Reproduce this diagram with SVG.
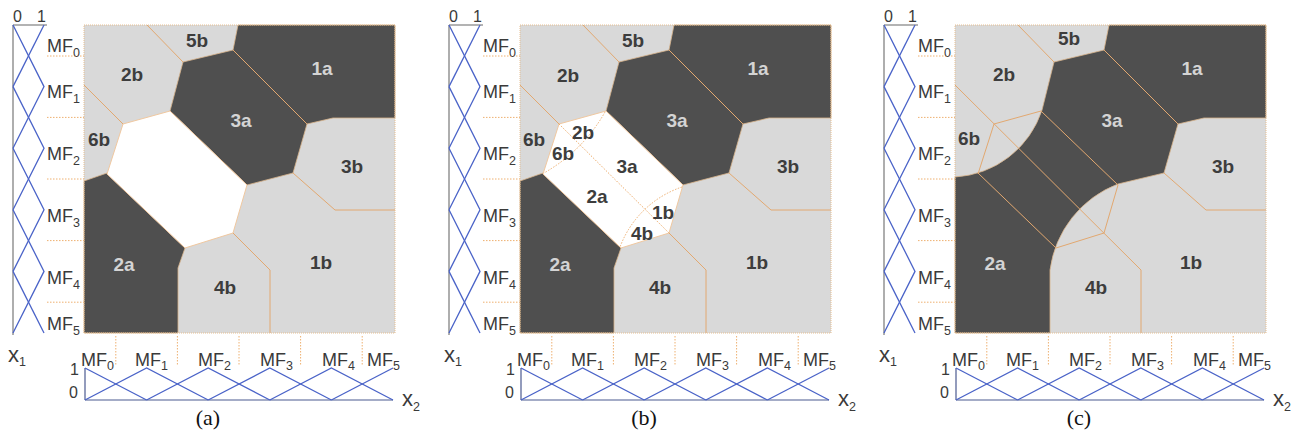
<svg xmlns="http://www.w3.org/2000/svg" width="1296" height="433" viewBox="0 0 1296 433">
<style>
.lt{fill:#d9d9d9}
.dk{fill:#4f4f4f;stroke:#d8b48c;stroke-width:0.8}
.wh{fill:#ffffff;stroke:#f0c8a0;stroke-width:1}
.ob{fill:none;stroke:#e2a870;stroke-width:1}
.od{fill:none;stroke:#eeae6e;stroke-width:1;stroke-dasharray:1.5 1.5}
.fr{fill:none;stroke:#e6be90;stroke-width:1;stroke-dasharray:1 1}
.mf{fill:none;stroke:#4a63c8;stroke-width:1.3}
.ax{stroke:#9a9a9a;stroke-width:1.6}
.ax2{stroke:#4b5a90;stroke-width:1.2}
.gl{fill:none;stroke:#eeb070;stroke-width:1;stroke-dasharray:1.5 1.5}
text{font-family:"Liberation Sans",Arial,sans-serif}
.mfl{font-size:18px;fill:#3a3a3a}
.sub{font-size:12.5px}
.tk{font-size:16px;fill:#3a3a3a}
.xl{font-size:22px;fill:#3a3a3a}
.rl{font-size:19px;font-weight:bold;fill:#3d3d3d;text-anchor:middle}
.rd{font-size:19px;font-weight:bold;fill:#d4d4d4;text-anchor:middle}
.cap{font-family:"Liberation Serif","Times New Roman",serif;font-size:22px;fill:#111;text-anchor:middle}
</style>

<!-- ================= PANEL (a) ================= -->
<g id="panel-a">
  <g id="a-regions">
    <rect class="lt" x="84" y="25" width="311" height="308"/>
    <polygon id="a-1a" class="dk" points="238,25 395,25 395,118 333,118 307,124 233,50"/>
    <polygon id="a-3a" class="dk" points="183,62 233,50 307,124 293,173 247,185 170,111"/>
    <polygon id="a-2a" class="dk" points="84,181 107,173 185,248 178,268 178,333 84,333"/>
    <polygon id="a-white" class="wh" points="123,124 170,111 247,185 233,233 185,248 107,174"/>
  </g>
  <g id="a-connectors">
    <polyline class="ob" points="147,25 183,62"/>
    <polyline class="ob" points="84,85 123,124"/>
    <polyline class="ob" points="233,50 307,124"/>
    <polyline class="ob" points="293,173 335,210 395,210"/>
    <polyline class="ob" points="233,233 270,270 270,333"/>
    <rect class="fr" x="84" y="25" width="311" height="308"/>
  </g>
  <g id="a-labels">
    <text class="rl" x="197" y="47">5b</text>
    <text class="rl" x="132" y="81">2b</text>
    <text class="rd" x="322" y="75">1a</text>
    <text class="rl" x="99" y="146">6b</text>
    <text class="rd" x="241" y="127">3a</text>
    <text class="rl" x="352" y="173">3b</text>
    <text class="rd" x="124" y="271">2a</text>
    <text class="rl" x="225" y="294">4b</text>
    <text class="rl" x="321" y="269">1b</text>
  </g>
  <g id="a-x1-axis">
    <line class="ax" x1="13" y1="25" x2="13" y2="335"/>
    <line class="ax" x1="13" y1="25" x2="47" y2="25"/>
    <text class="tk" x="13" y="22">0</text>
    <text class="tk" x="37" y="22">1</text>
    <polyline class="mf" points="44,25 13,86.6"/>
    <polyline class="mf" points="13,25 44,86.6 13,148.2"/>
    <polyline class="mf" points="13,86.6 44,148.2 13,209.8"/>
    <polyline class="mf" points="13,148.2 44,209.8 13,271.4"/>
    <polyline class="mf" points="13,209.8 44,271.4 13,333"/>
    <polyline class="mf" points="13,271.4 44,333"/>
    <path class="gl" d="M47 56H84M47 117.4H84M47 179H84M47 240.6H84M47 302.2H84"/>
    <text class="mfl" x="47" y="52">MF<tspan class="sub" dy="5">0</tspan></text>
    <text class="mfl" x="47" y="98">MF<tspan class="sub" dy="5">1</tspan></text>
    <text class="mfl" x="47" y="160">MF<tspan class="sub" dy="5">2</tspan></text>
    <text class="mfl" x="47" y="222">MF<tspan class="sub" dy="5">3</tspan></text>
    <text class="mfl" x="47" y="284">MF<tspan class="sub" dy="5">4</tspan></text>
    <text class="mfl" x="47" y="330">MF<tspan class="sub" dy="5">5</tspan></text>
    <text class="xl" x="8" y="362">x<tspan class="sub" dy="4">1</tspan></text>
  </g>
  <g id="a-x2-axis">
    <path class="gl" d="M115.8 336V366M177.4 336V366M239 336V366M300.6 336V366M362.2 336V366"/>
    <line class="ax2" x1="85" y1="368" x2="85" y2="400"/>
    <line class="ax2" x1="85" y1="400" x2="393" y2="400"/>
    <polyline class="mf" points="85,368 146.6,400"/>
    <polyline class="mf" points="85,400 146.6,368 208.2,400"/>
    <polyline class="mf" points="146.6,400 208.2,368 269.8,400"/>
    <polyline class="mf" points="208.2,400 269.8,368 331.4,400"/>
    <polyline class="mf" points="269.8,400 331.4,368 393,400"/>
    <polyline class="mf" points="331.4,400 393,368"/>
    <text class="tk" x="79" y="375" text-anchor="end">1</text>
    <text class="tk" x="78" y="398" text-anchor="end">0</text>
    <text class="mfl" x="81" y="366">MF<tspan class="sub" dy="4">0</tspan></text>
    <text class="mfl" x="135" y="366">MF<tspan class="sub" dy="4">1</tspan></text>
    <text class="mfl" x="198" y="366">MF<tspan class="sub" dy="4">2</tspan></text>
    <text class="mfl" x="260" y="366">MF<tspan class="sub" dy="4">3</tspan></text>
    <text class="mfl" x="322" y="366">MF<tspan class="sub" dy="4">4</tspan></text>
    <text class="mfl" x="367" y="366">MF<tspan class="sub" dy="4">5</tspan></text>
    <text class="xl" x="402" y="406">x<tspan class="sub" dy="5">2</tspan></text>
  </g>
  <text class="cap" x="208" y="425">(a)</text>
</g>

<!-- ================= PANEL (b) ================= -->
<g id="panel-b" transform="translate(436,0)">
  <g id="b-regions">
    <rect class="lt" x="84" y="25" width="311" height="308"/>
    <polygon id="b-1a" class="dk" points="238,25 395,25 395,118 333,118 307,124 233,50"/>
    <polygon id="b-3a" class="dk" points="183,62 233,50 307,124 293,173 247,185 170,111"/>
    <polygon id="b-2a" class="dk" points="84,181 107,173 185,248 178,268 178,333 84,333"/>
    <polygon id="b-white" class="wh" points="123,124 170,111 247,185 233,233 185,248 107,174"/>
  </g>
  <g id="b-connectors">
    <polyline class="ob" points="147,25 183,62"/>
    <polyline class="ob" points="84,85 123,124"/>
    <polyline class="ob" points="233,50 307,124"/>
    <polyline class="ob" points="293,173 335,210 395,210"/>
    <polyline class="ob" points="233,233 270,270 270,333"/>
    <polyline class="od" points="123,124 233,233"/>
    <path class="od" d="M169 112 A161 161 0 0 1 108 173"/>
    <path class="od" d="M246 187 A100 100 0 0 0 184 247"/>
    <rect class="fr" x="84" y="25" width="311" height="308"/>
  </g>
  <g id="b-labels">
    <text class="rl" x="197" y="47">5b</text>
    <text class="rl" x="132" y="82">2b</text>
    <text class="rd" x="322" y="75">1a</text>
    <text class="rl" x="98" y="146">6b</text>
    <text class="rd" x="241" y="127">3a</text>
    <text class="rl" x="352" y="173">3b</text>
    <text class="rd" x="124" y="271">2a</text>
    <text class="rl" x="224" y="294">4b</text>
    <text class="rl" x="321" y="269">1b</text>
    <text class="rl" x="147" y="139">2b</text>
    <text class="rl" x="127" y="160">6b</text>
    <text class="rl" x="191" y="173">3a</text>
    <text class="rl" x="161" y="203">2a</text>
    <text class="rl" x="227" y="219">1b</text>
    <text class="rl" x="206" y="240">4b</text>
  </g>
  <g id="b-x1-axis">
    <line class="ax" x1="13" y1="25" x2="13" y2="335"/>
    <line class="ax" x1="13" y1="25" x2="47" y2="25"/>
    <text class="tk" x="13" y="22">0</text>
    <text class="tk" x="37" y="22">1</text>
    <polyline class="mf" points="44,25 13,86.6"/>
    <polyline class="mf" points="13,25 44,86.6 13,148.2"/>
    <polyline class="mf" points="13,86.6 44,148.2 13,209.8"/>
    <polyline class="mf" points="13,148.2 44,209.8 13,271.4"/>
    <polyline class="mf" points="13,209.8 44,271.4 13,333"/>
    <polyline class="mf" points="13,271.4 44,333"/>
    <path class="gl" d="M47 56H84M47 117.4H84M47 179H84M47 240.6H84M47 302.2H84"/>
    <text class="mfl" x="47" y="52">MF<tspan class="sub" dy="5">0</tspan></text>
    <text class="mfl" x="47" y="98">MF<tspan class="sub" dy="5">1</tspan></text>
    <text class="mfl" x="47" y="160">MF<tspan class="sub" dy="5">2</tspan></text>
    <text class="mfl" x="47" y="222">MF<tspan class="sub" dy="5">3</tspan></text>
    <text class="mfl" x="47" y="284">MF<tspan class="sub" dy="5">4</tspan></text>
    <text class="mfl" x="47" y="330">MF<tspan class="sub" dy="5">5</tspan></text>
    <text class="xl" x="8" y="362">x<tspan class="sub" dy="4">1</tspan></text>
  </g>
  <g id="b-x2-axis">
    <path class="gl" d="M115.8 336V366M177.4 336V366M239 336V366M300.6 336V366M362.2 336V366"/>
    <line class="ax2" x1="85" y1="368" x2="85" y2="400"/>
    <line class="ax2" x1="85" y1="400" x2="393" y2="400"/>
    <polyline class="mf" points="85,368 146.6,400"/>
    <polyline class="mf" points="85,400 146.6,368 208.2,400"/>
    <polyline class="mf" points="146.6,400 208.2,368 269.8,400"/>
    <polyline class="mf" points="208.2,400 269.8,368 331.4,400"/>
    <polyline class="mf" points="269.8,400 331.4,368 393,400"/>
    <polyline class="mf" points="331.4,400 393,368"/>
    <text class="tk" x="79" y="375" text-anchor="end">1</text>
    <text class="tk" x="78" y="398" text-anchor="end">0</text>
    <text class="mfl" x="81" y="366">MF<tspan class="sub" dy="4">0</tspan></text>
    <text class="mfl" x="135" y="366">MF<tspan class="sub" dy="4">1</tspan></text>
    <text class="mfl" x="198" y="366">MF<tspan class="sub" dy="4">2</tspan></text>
    <text class="mfl" x="260" y="366">MF<tspan class="sub" dy="4">3</tspan></text>
    <text class="mfl" x="322" y="366">MF<tspan class="sub" dy="4">4</tspan></text>
    <text class="mfl" x="367" y="366">MF<tspan class="sub" dy="4">5</tspan></text>
    <text class="xl" x="402" y="406">x<tspan class="sub" dy="5">2</tspan></text>
  </g>
  <text class="cap" x="208" y="425">(b)</text>
</g>

<!-- ================= PANEL (c) ================= -->
<g id="panel-c" transform="translate(871,0)">
  <g id="c-regions">
    <rect class="lt" x="84" y="25" width="311" height="308"/>
    <polygon id="c-1a" class="dk" points="238,25 395,25 395,118 333,118 307,124 233,50"/>
    <path id="c-band" class="dk" d="M183 62 L233 50 L307 124 L293 173 L247 184 A107 107 0 0 0 179 270 L179 333 L84 333 L84 177 A97 97 0 0 0 171 110 Z"/>
  </g>
  <g id="c-connectors">
    <polyline class="ob" points="147,25 183,62"/>
    <polyline class="ob" points="84,85 270,270 270,333"/>
    <polyline class="ob" points="233,50 307,124"/>
    <polyline class="ob" points="170,111 247,185"/>
    <polyline class="ob" points="107,173 185,248"/>
    <polyline class="ob" points="170,111 123,124 107,174"/>
    <polyline class="ob" points="247,185 233,233 185,248"/>
    <polyline class="ob" points="293,173 335,210 395,210"/>
    <rect class="fr" x="84" y="25" width="311" height="308"/>
  </g>
  <g id="c-labels">
    <text class="rl" x="198" y="45">5b</text>
    <text class="rl" x="133" y="81">2b</text>
    <text class="rd" x="321" y="75">1a</text>
    <text class="rl" x="98" y="145">6b</text>
    <text class="rd" x="241" y="127">3a</text>
    <text class="rl" x="352" y="173">3b</text>
    <text class="rd" x="124" y="270">2a</text>
    <text class="rl" x="225" y="294">4b</text>
    <text class="rl" x="320" y="269">1b</text>
  </g>
  <g id="c-x1-axis">
    <line class="ax" x1="13" y1="25" x2="13" y2="335"/>
    <line class="ax" x1="13" y1="25" x2="47" y2="25"/>
    <text class="tk" x="13" y="22">0</text>
    <text class="tk" x="37" y="22">1</text>
    <polyline class="mf" points="44,25 13,86.6"/>
    <polyline class="mf" points="13,25 44,86.6 13,148.2"/>
    <polyline class="mf" points="13,86.6 44,148.2 13,209.8"/>
    <polyline class="mf" points="13,148.2 44,209.8 13,271.4"/>
    <polyline class="mf" points="13,209.8 44,271.4 13,333"/>
    <polyline class="mf" points="13,271.4 44,333"/>
    <path class="gl" d="M47 56H84M47 117.4H84M47 179H84M47 240.6H84M47 302.2H84"/>
    <text class="mfl" x="47" y="52">MF<tspan class="sub" dy="5">0</tspan></text>
    <text class="mfl" x="47" y="98">MF<tspan class="sub" dy="5">1</tspan></text>
    <text class="mfl" x="47" y="160">MF<tspan class="sub" dy="5">2</tspan></text>
    <text class="mfl" x="47" y="222">MF<tspan class="sub" dy="5">3</tspan></text>
    <text class="mfl" x="47" y="284">MF<tspan class="sub" dy="5">4</tspan></text>
    <text class="mfl" x="47" y="330">MF<tspan class="sub" dy="5">5</tspan></text>
    <text class="xl" x="8" y="362">x<tspan class="sub" dy="4">1</tspan></text>
  </g>
  <g id="c-x2-axis">
    <path class="gl" d="M115.8 336V366M177.4 336V366M239 336V366M300.6 336V366M362.2 336V366"/>
    <line class="ax2" x1="85" y1="368" x2="85" y2="400"/>
    <line class="ax2" x1="85" y1="400" x2="393" y2="400"/>
    <polyline class="mf" points="85,368 146.6,400"/>
    <polyline class="mf" points="85,400 146.6,368 208.2,400"/>
    <polyline class="mf" points="146.6,400 208.2,368 269.8,400"/>
    <polyline class="mf" points="208.2,400 269.8,368 331.4,400"/>
    <polyline class="mf" points="269.8,400 331.4,368 393,400"/>
    <polyline class="mf" points="331.4,400 393,368"/>
    <text class="tk" x="79" y="375" text-anchor="end">1</text>
    <text class="tk" x="78" y="398" text-anchor="end">0</text>
    <text class="mfl" x="81" y="366">MF<tspan class="sub" dy="4">0</tspan></text>
    <text class="mfl" x="135" y="366">MF<tspan class="sub" dy="4">1</tspan></text>
    <text class="mfl" x="198" y="366">MF<tspan class="sub" dy="4">2</tspan></text>
    <text class="mfl" x="260" y="366">MF<tspan class="sub" dy="4">3</tspan></text>
    <text class="mfl" x="322" y="366">MF<tspan class="sub" dy="4">4</tspan></text>
    <text class="mfl" x="367" y="366">MF<tspan class="sub" dy="4">5</tspan></text>
    <text class="xl" x="402" y="406">x<tspan class="sub" dy="5">2</tspan></text>
  </g>
  <text class="cap" x="208" y="425">(c)</text>
</g>
</svg>
